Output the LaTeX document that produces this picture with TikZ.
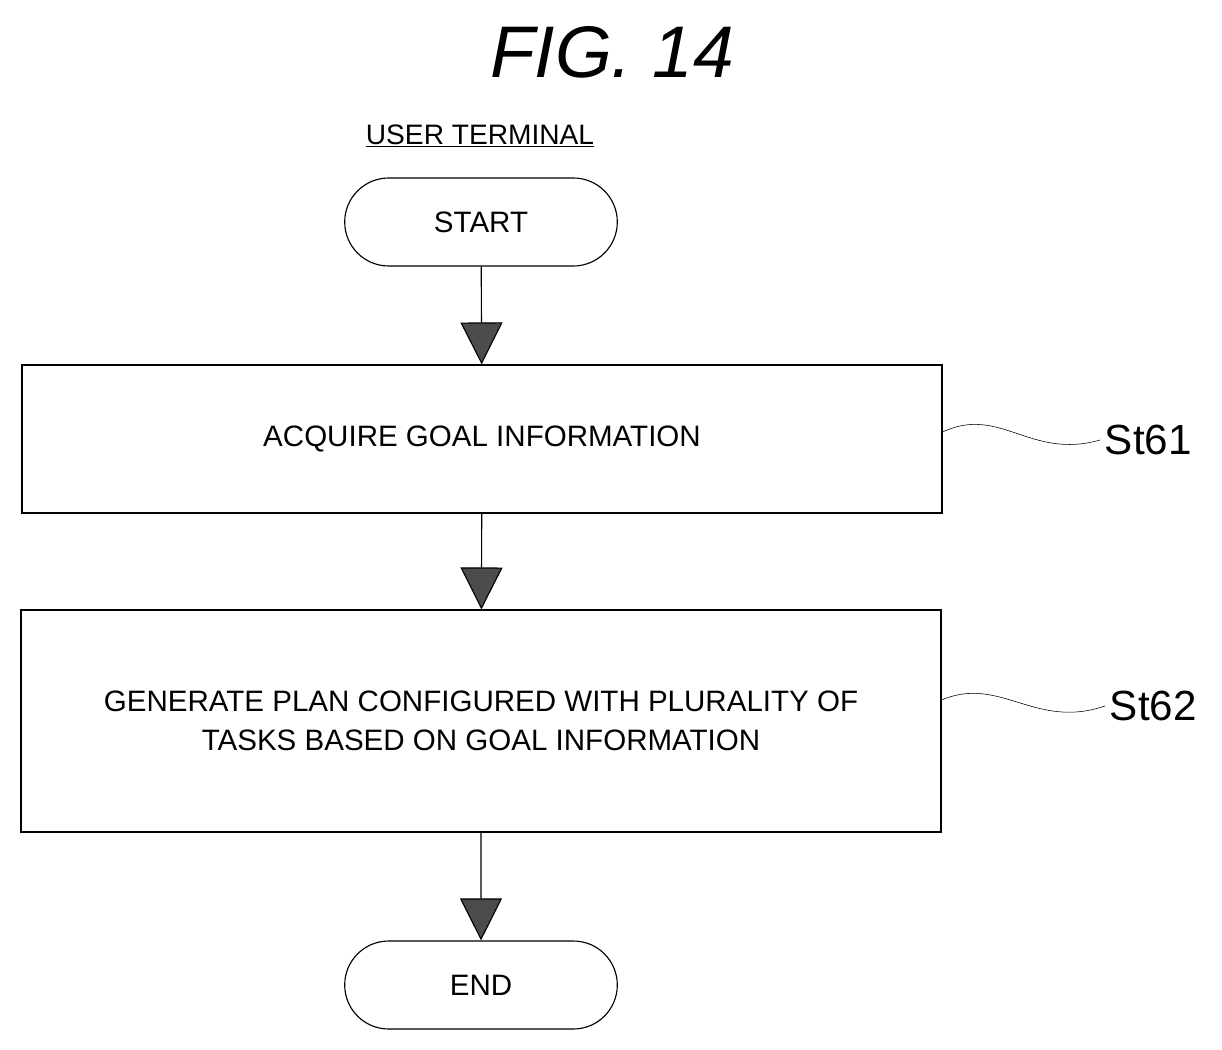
\documentclass[tikz,border=0pt]{standalone}
\usepackage{fontspec}
\setmainfont{Liberation Sans}
\usetikzlibrary{shapes, arrows.meta}

\begin{document}
\begin{tikzpicture}[x=0.025cm, y=-0.025cm,
  term/.style={draw, thick, rounded rectangle, minimum width=282*0.025cm, minimum height=88*0.025cm, font=\fontsize{21}{24}\selectfont},
  box/.style={draw, thick, minimum width=920*0.025cm, font=\fontsize{21}{28}\selectfont, align=center},
  flow/.style={-{Triangle[width=42*0.025cm, length=42*0.025cm, fill=gray!60!black]}, thick},
  wave/.style={thin}]
\useasboundingbox (0,0) rectangle (1222,1050);
\node[font=\fontsize{52}{58}\itshape\selectfont] (fig) at (612,52) {FIG. 14};
\node[font=\fontsize{20}{22}\selectfont] (user) at (480,136) {\underline{USER TERMINAL}};
\node[term] (start) at (481,222) {START};
\node[box, minimum height=148*0.025cm] (s61) at (482,439) {ACQUIRE GOAL INFORMATION};
\node[box, minimum height=222*0.025cm] (s62) at (481,721) {GENERATE PLAN CONFIGURED WITH PLURALITY OF\\TASKS BASED ON GOAL INFORMATION};
\node[term] (end) at (481,985) {END};
\draw[flow] (start) -- (s61);
\draw[flow] (s61) -- (s62);
\draw[flow] (s62) -- (end);
% Step labels:
\node[font=\fontsize{30}{34}\selectfont, anchor=west] (l61) at (1100,440) {St61};
\node[font=\fontsize{30}{34}\selectfont, anchor=west] (l62) at (1105,706) {St62};
\draw[wave] (s61.east |- 0,432) .. controls (1000,405) and (1030,460) .. (l61.west);
\draw[wave] (s62.east |- 0,700) .. controls (1000,675) and (1035,730) .. (l62.west);
\end{tikzpicture}
\end{document}
